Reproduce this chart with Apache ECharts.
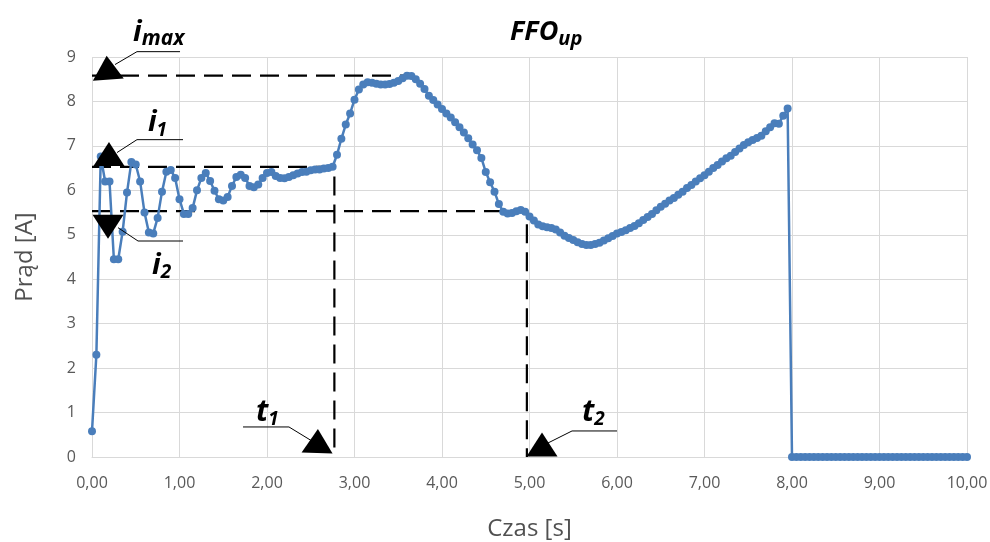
<!DOCTYPE html>
<html><head><meta charset="utf-8">
<script src="https://cdn.jsdelivr.net/npm/echarts@6/dist/echarts.min.js"></script>
<style>html,body{margin:0;padding:0;background:#fff}#c{width:990px;height:542px}</style>
</head><body><div id="c"></div>
<script>
// sampling step of the measurement (s)
const timeStep = 0.05;
// measured current [A], one value per time step from 0,00 s to 10,00 s
const current = [
  0.58, 2.3, 6.76, 6.2, 6.2, 4.45, 4.45, 5.07, 5.95, 6.64,
  6.58, 6.2, 5.5, 5.05, 5.03, 5.38, 5.97, 6.42, 6.46, 6.28,
  5.8, 5.47, 5.47, 5.6, 6.0, 6.28, 6.39, 6.21, 5.99, 5.8,
  5.77, 5.85, 6.1, 6.3, 6.35, 6.28, 6.1, 6.07, 6.13, 6.28,
  6.39, 6.41, 6.32, 6.28, 6.27, 6.3, 6.34, 6.38, 6.41, 6.42,
  6.45, 6.47, 6.47, 6.49, 6.5, 6.53, 6.8, 7.16, 7.48, 7.73,
  8.04, 8.27, 8.38, 8.43, 8.42, 8.4, 8.38, 8.38, 8.39, 8.42,
  8.46, 8.52, 8.58, 8.57, 8.5, 8.4, 8.28, 8.13, 8.03, 7.93,
  7.83, 7.73, 7.64, 7.53, 7.42, 7.3, 7.17, 7.03, 6.9, 6.73,
  6.41, 6.18, 5.97, 5.69, 5.52, 5.48, 5.49, 5.53, 5.56, 5.52,
  5.41, 5.32, 5.23, 5.19, 5.17, 5.15, 5.12, 5.05, 4.98, 4.93,
  4.88, 4.83, 4.79, 4.77, 4.77, 4.79, 4.82, 4.87, 4.92, 4.97,
  5.03, 5.06, 5.1, 5.15, 5.2, 5.26, 5.33, 5.4, 5.47, 5.55,
  5.63, 5.7, 5.77, 5.83, 5.9, 5.97, 6.05, 6.12, 6.2, 6.27,
  6.34, 6.42, 6.5, 6.57, 6.65, 6.72, 6.78, 6.86, 6.94, 7.02,
  7.08, 7.13, 7.18, 7.23, 7.33, 7.42, 7.51, 7.5, 7.68, 7.84,
  0, 0, 0, 0, 0, 0, 0, 0, 0, 0,
  0, 0, 0, 0, 0, 0, 0, 0, 0, 0,
  0, 0, 0, 0, 0, 0, 0, 0, 0, 0,
  0, 0, 0, 0, 0, 0, 0, 0, 0, 0,
  0
];
const xTickLabels = ['0,00','1,00','2,00','3,00','4,00','5,00','6,00','7,00','8,00','9,00','10,00'];
const yTickLabels = ['0','1','2','3','4','5','6','7','8','9'];

// annotation values
const iMax = 8.58, i1 = 6.53, i2 = 5.53;
const t1 = 2.77, t2 = 4.97, tMax = 3.61;

// dashed guide lines [t, i]
const guideIMax = [[0, iMax], [tMax, iMax]];
const guideI1 = [[0, i1], [t1, i1], [t1, 0.2]];
const guideI2 = [[0, i2], [t2, i2], [t2, 0]];
// callout leader lines [t, i]
const leaderIMax = [[0.263, 8.83], [0.514, 9.12], [1.006, 9.12]];
const leaderI1 = [[0.286, 6.85], [0.514, 7.14], [1.04, 7.14]];
const leaderI2 = [[0.297, 5.16], [0.526, 4.86], [1.04, 4.86]];
const leaderT1 = [[2.514, 0.36], [2.251, 0.676], [1.726, 0.676]];
const leaderT2 = [[5.211, 0.315], [5.486, 0.586], [6.0, 0.586]];
// arrow heads [t, i, rotation]
const arrowHeads = [[0.177, 8.76, 4], [0.194, 6.82, 0], [0.183, 5.18, 180], [2.577, 0.36, -2], [5.143, 0.28, 0]];
// text labels: [main, sub, t, i]
const callLabels = [['i','max',0.469,9.17],['i','1',0.64,7.13],['i','2',0.686,3.93],['t','1',1.874,0.63],['t','2',5.6,0.63]];

const FONT = 'Open Sans';
const points = current.map((v, k) => [+(k * timeStep).toFixed(2), v]);

function guide(data){
  return {type:'line', data, symbol:'none', silent:true, clip:false, z:3,
    lineStyle:{color:'#000', width:2.2, type:[19,9]}, animation:false};
}
function leader(data){
  return {type:'line', data, symbol:'none', silent:true, clip:false, z:6,
    lineStyle:{color:'#000', width:1}, animation:false};
}

const chart = echarts.init(document.getElementById('c'), null, {renderer:'canvas'});
chart.setOption({
  animation:false,
  backgroundColor:'#fff',
  grid:{left:92, right:23, top:57, bottom:85, containLabel:false, outerBoundsMode:'none'},
  xAxis:{type:'value', min:0, max:10, interval:1,
    name:'Czas [s]', nameLocation:'middle', nameGap:60,
    nameTextStyle:{fontFamily:FONT, fontSize:24, color:'#505050'},
    axisLine:{show:true, lineStyle:{color:'#d9d9d9', width:1}},
    axisTick:{show:false},
    axisLabel:{fontFamily:FONT, fontSize:16, color:'#595959', margin:18,
      formatter:v => xTickLabels[Math.round(v)]},
    splitLine:{show:true, lineStyle:{color:'#d9d9d9', width:1}}},
  yAxis:{type:'value', min:0, max:9, interval:1,
    name:'Prąd [A]', nameLocation:'middle', nameGap:55, nameRotate:90,
    nameTextStyle:{fontFamily:FONT, fontSize:24, color:'#505050'},
    axisLine:{show:false}, axisTick:{show:false},
    axisLabel:{fontFamily:FONT, fontSize:16, color:'#595959', margin:16,
      formatter:v => yTickLabels[Math.round(v)]},
    splitLine:{show:true, lineStyle:{color:'#d9d9d9', width:1}}},
  series:[
    guide(guideIMax), guide(guideI1), guide(guideI2),
    {type:'line', name:'FFOup', data:points, z:4,
      symbol:'circle', symbolSize:8, showSymbol:true,
      itemStyle:{color:'#4a7ebb'},
      lineStyle:{color:'#4a7ebb', width:2.5}},
    leader(leaderIMax), leader(leaderI1), leader(leaderI2), leader(leaderT1), leader(leaderT2),
    {type:'scatter', z:7, silent:true, clip:false,
      data: arrowHeads.map(a => ({value:[a[0], a[1]], symbolRotate:a[2]})),
      symbol:'triangle', symbolSize:[31,24], itemStyle:{color:'#000', opacity:1}}
  ]
});

const graphics = [];
// title
graphics.push({type:'text', left:510, top:19, z:10, style:{
  text:'{a|FFO}{b|up}', rich:{
    a:{fontFamily:FONT, fontSize:27, fontWeight:'bold', fontStyle:'italic', fill:'#000', lineHeight:34, verticalAlign:'middle'},
    b:{fontFamily:FONT, fontSize:20, fontWeight:'bold', fontStyle:'italic', fill:'#000', lineHeight:14, verticalAlign:'bottom'}
  }}});
callLabels.forEach(l => {
  const p = chart.convertToPixel({gridIndex:0}, [l[2], l[3]]);
  const big = l[0] === 'i' ? 29 : 30;
  const small = l[1] === 'max' ? 21 : 19;
  graphics.push({type:'text', x:p[0], y:p[1], z:10, style:{
    text:'{a|' + l[0] + '}{b|' + l[1] + '}', align:'left', verticalAlign:'bottom', rich:{
      a:{fontFamily:FONT, fontSize:big, fontWeight:'bold', fontStyle:'italic', fill:'#000', lineHeight:34, verticalAlign:'middle'},
      b:{fontFamily:FONT, fontSize:small, fontWeight:'bold', fontStyle:'italic', fill:'#000', lineHeight:12, verticalAlign:'bottom'}
    }}});
});
chart.setOption({graphic:graphics});
</script>
</body></html>
